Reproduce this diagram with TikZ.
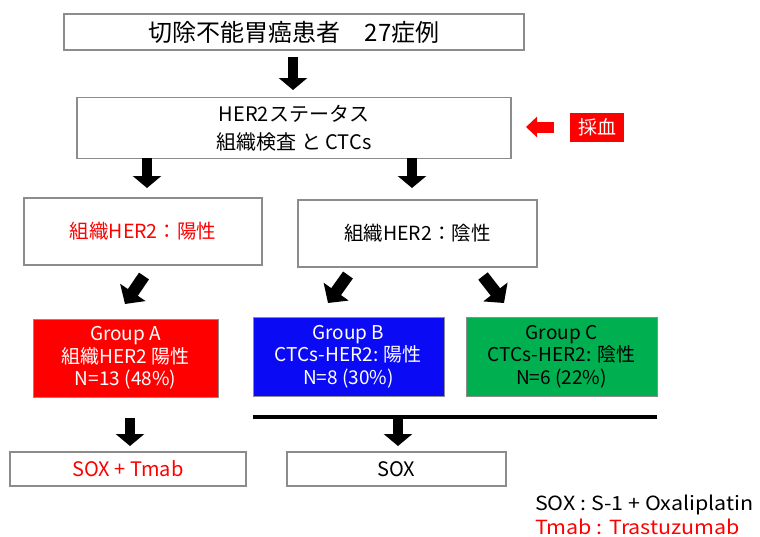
\documentclass[tikz,border=0pt]{standalone}
\usepackage{fontspec}
\setmainfont{Noto Sans CJK JP}
\newfontfamily\legfont[FakeStretch=1.1]{Noto Sans CJK JP}
\usetikzlibrary{arrows.meta}
\definecolor{bxred}{HTML}{FF0000}
\definecolor{bxblue}{HTML}{0A0AF5}
\definecolor{bxgreen}{HTML}{00B050}
\definecolor{bxgray}{HTML}{8C8C8C}
\begin{document}
\begin{tikzpicture}[x=1pt,y=-1pt,
  box/.style={draw=bxgray, line width=1.1pt, fill=white, inner sep=0pt, align=center},
  grp/.style={draw=bxgray, line width=0.8pt, inner sep=0pt, align=center, font=\fontsize{19}{22.5}\selectfont},
  blk/.style={line width=10pt, -{Triangle[width=28pt,length=12pt]}},
  dblk/.style={line width=12pt, -{Triangle[width=30pt,length=14pt]}},
  leg/.style={anchor=west, inner sep=0pt, font=\legfont\fontsize{19.5}{22}\selectfont},
]
\useasboundingbox[fill=white] (0,0) rectangle (760,536);

\node[box, minimum width=460pt, minimum height=36pt, font=\fontsize{24}{27}\selectfont] (b1) at (294,32) {切除不能胃癌患者　27症例};
\node[box, minimum width=434pt, minimum height=61pt, font=\fontsize{20}{27.5}\selectfont] (b2) at (294,128) {HER2ステータス\\組織検査 と CTCs};
\node[draw=none, fill=bxred, inner sep=0pt, minimum width=54pt, minimum height=29pt, text=white, font=\fontsize{19}{22}\selectfont] (blood) at (597,127) {採血};

\node[box, minimum width=238pt, minimum height=67pt, text=bxred, font=\fontsize{19.5}{22}\selectfont] (b3) at (143,231.5) {組織HER2：陽性};
\node[box, minimum width=239pt, minimum height=67pt, font=\fontsize{19.5}{22}\selectfont] (b4) at (417.5,233.5) {組織HER2：陰性};

\node[grp, fill=bxred, text=white, minimum width=185pt, minimum height=78pt] (ga) at (125.5,358) {Group A\\組織HER2 陽性\\N=13 (48\%)};
\node[grp, fill=bxblue, text=white, minimum width=191pt, minimum height=79pt] (gb) at (348.5,356.5) {Group B\\CTCs-HER2: 陽性\\N=8 (30\%)};
\node[grp, fill=bxgreen, text=black, minimum width=191pt, minimum height=79pt] (gc) at (561.5,356.5) {Group C\\CTCs-HER2: 陰性\\N=6 (22\%)};

\node[box, minimum width=236pt, minimum height=34pt, text=bxred, font=\fontsize{20}{22}\selectfont] (t1) at (128,469) {SOX + Tmab};
\node[box, minimum width=219pt, minimum height=34pt, font=\fontsize{20}{22}\selectfont] (t2) at (396.5,469) {SOX};

\node[leg] (leg1) at (535,505) {SOX : S-1 + Oxaliplatin};
\node[leg, text=bxred] (leg2) at (535,527) {Tmab : Trastuzumab};

% bracket line under groups B and C
\coordinate (l1) at (253,417);
\coordinate (l2) at (657,417);
\draw[line width=4pt] (l1) -- (l2);

% arrow end points
\coordinate (a1s) at (293,57);  \coordinate (a1e) at (293,90);
\coordinate (a2s) at (147,158); \coordinate (a2e) at (147,188);
\coordinate (a3s) at (412,158); \coordinate (a3e) at (412,188);
\coordinate (a4s) at (144,276); \coordinate (a4e) at (125,304);
\coordinate (a5s) at (348,275); \coordinate (a5e) at (328,303);
\coordinate (a6s) at (483,276); \coordinate (a6e) at (504,303);
\coordinate (a7s) at (130,418); \coordinate (a7e) at (130,446);
\coordinate (a8s) at (398,418); \coordinate (a8e) at (398,446);
\coordinate (rs) at (554,127);  \coordinate (re) at (526,127);

\draw[blk] (a1s) -- (a1e);
\draw[blk] (a2s) -- (a2e);
\draw[blk] (a3s) -- (a3e);
\draw[dblk] (a4s) -- (a4e);
\draw[dblk] (a5s) -- (a5e);
\draw[dblk] (a6s) -- (a6e);
\draw[blk] (a7s) -- (a7e);
\draw[blk] (a8s) -- (a8e);
\draw[bxred, line width=11pt, -{Triangle[width=20pt,length=11pt]}] (rs) -- (re);
\end{tikzpicture}
\end{document}
